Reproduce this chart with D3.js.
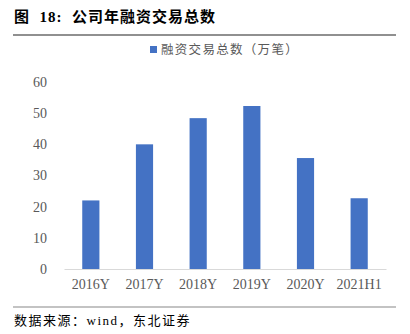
<!DOCTYPE html>
<html><head><meta charset="utf-8">
<script src="https://cdn.jsdelivr.net/npm/d3@7"></script>
<style>
body{margin:0;background:#fff;}
svg{display:block;}
text{white-space:pre;}
</style></head>
<body>
<script>
const categories = ["2016Y","2017Y","2018Y","2019Y","2020Y","2021H1"];
const values = [22, 40, 48.4, 52.3, 35.6, 22.7];
const yTicks = [0,10,20,30,40,50,60];
const seriesName = "融资交易总数（万笔）";
const titleText = "图  18:  公司年融资交易总数";
const sourceText = "数据来源：wind，东北证券";

const W = 410, H = 334;
const svg = d3.select("body").append("svg").attr("width", W).attr("height", H);
const serif = "'Liberation Serif','Times New Roman','Noto Sans CJK SC',serif";
const cjk = "'Liberation Serif','Noto Sans CJK SC',serif";

// title
svg.append("text").attr("x", 14).attr("y", 22)
  .attr("font-family", cjk).attr("font-weight", "bold").attr("font-size", 15)
  .attr("letter-spacing", 1).attr("fill", "#000").text(titleText);
svg.append("line").attr("x1", 13).attr("x2", 396).attr("y1", 35).attr("y2", 35)
  .attr("stroke", "#222").attr("stroke-width", 1.2);

const x = d3.scaleBand().domain(categories).range([64, 386]).paddingInner(0.68).paddingOuter(0.34);
const y = d3.scaleLinear().domain([0, 60]).range([269, 82]);

// y axis labels
const yAxis = d3.axisLeft(y).tickValues(yTicks).tickSize(0).tickPadding(0).tickFormat(d3.format("d"));
const gy = svg.append("g").attr("transform", "translate(47,0)").call(yAxis);
gy.select(".domain").remove();
gy.selectAll("text").attr("font-family", serif).attr("font-size", 14).attr("fill", "#595959");

// bars
svg.append("g").selectAll("rect").data(values).join("rect")
  .attr("x", (d, i) => x(categories[i]))
  .attr("width", x.bandwidth())
  .attr("y", d => y(d))
  .attr("height", d => y(0) - y(d))
  .attr("fill", "#4472C4");

// x axis
const xAxis = d3.axisBottom(x).tickSize(0).tickPadding(10);
const gx = svg.append("g").attr("transform", "translate(0,269)").call(xAxis);
gx.select(".domain").attr("stroke", "#D9D9D9").attr("stroke-width", 1);
gx.selectAll("text").attr("font-family", serif).attr("font-size", 14).attr("fill", "#595959");

// legend
svg.append("rect").attr("x", 150).attr("y", 46).attr("width", 7).attr("height", 7).attr("fill", "#4472C4");
svg.append("text").attr("x", 161).attr("y", 54)
  .attr("font-family", cjk).attr("font-size", 12.5).attr("fill", "#595959")
  .attr("letter-spacing", 1.3).text(seriesName);

// bottom rule & source
svg.append("line").attr("x1", 13).attr("x2", 396).attr("y1", 307).attr("y2", 307)
  .attr("stroke", "#888").attr("stroke-width", 1.2);
svg.append("text").attr("x", 14).attr("y", 325)
  .attr("font-family", cjk).attr("font-size", 13).attr("fill", "#000")
  .attr("letter-spacing", 1.5).text(sourceText);
</script>
</body></html>
